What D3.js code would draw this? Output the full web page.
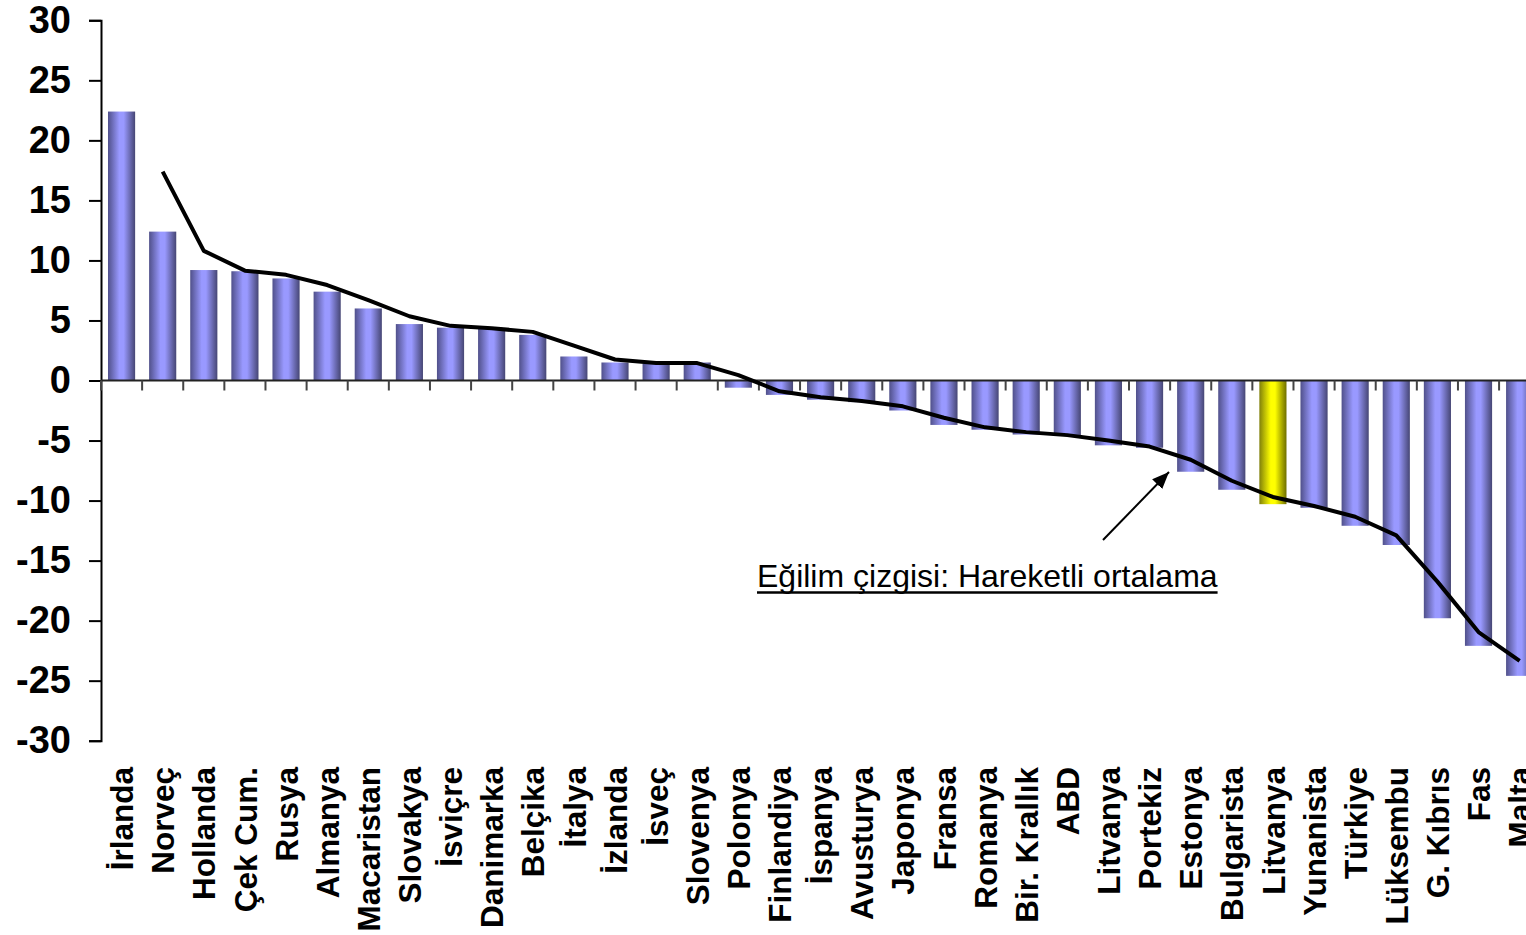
<!DOCTYPE html>
<html>
<head>
<meta charset="utf-8">
<script src="https://cdn.jsdelivr.net/npm/d3@7"></script>
<style>
  html, body { margin: 0; padding: 0; background: #fff; overflow: hidden; }
  svg { display: block; }
</style>
</head>
<body>
<svg id="chart" width="1526" height="935"></svg>
<script>
// ---- data ----
const categories = ["İrlanda","Norveç","Hollanda","Çek Cum.","Rusya","Almanya","Macaristan","Slovakya","İsviçre","Danimarka","Belçika","İtalya","İzlanda","İsveç","Slovenya","Polonya","Finlandiya","İspanya","Avusturya","Japonya","Fransa","Romanya","Bir. Krallık","ABD","Litvanya","Portekiz","Estonya","Bulgarista","Litvanya","Yunanista","Türkiye","Lüksembu","G. Kıbrıs","Fas","Malta"];
const values = [22.4,12.4,9.2,9.1,8.5,7.4,6.0,4.7,4.4,4.3,3.8,2.0,1.5,1.4,1.5,-0.6,-1.2,-1.6,-1.8,-2.5,-3.7,-4.1,-4.5,-4.6,-5.4,-5.6,-7.6,-9.1,-10.3,-10.6,-12.1,-13.7,-19.8,-22.1,-24.6];
const highlightIndex = 28;
const yTicks = [30,25,20,15,10,5,0,-5,-10,-15,-20,-25,-30];
const movingAveragePeriod = 2;
const annotationText = "Eğilim çizgisi: Hareketli ortalama";

// ---- layout ----
const svg = d3.select("#chart");
const left = 101, step = 41.12;
const x = d3.scaleBand().domain(d3.range(categories.length)).range([left, left + step * categories.length]).paddingInner(0).paddingOuter(0);
const y = d3.scaleLinear().domain([-30, 30]).range([740.7, 20.3]);
const barW = x.bandwidth() * 0.66;
const font = "'Liberation Sans', Arial, sans-serif";

const defs = svg.append("defs");
function grad(id, edgeL, mid, edgeR) {
  const g = defs.append("linearGradient").attr("id", id).attr("x1", "0").attr("x2", "1").attr("y1", "0").attr("y2", "0");
  g.append("stop").attr("offset", "0%").attr("stop-color", edgeL);
  g.append("stop").attr("offset", "42%").attr("stop-color", mid);
  g.append("stop").attr("offset", "58%").attr("stop-color", mid);
  g.append("stop").attr("offset", "100%").attr("stop-color", edgeR);
}
grad("gBlue", "#50508a", "#9999ff", "#464674");
grad("gYellow", "#80800a", "#ffff00", "#6e6e00");

// bars
svg.append("g").selectAll("rect").data(values).join("rect")
  .attr("x", (d, i) => x(i) + (x.bandwidth() - barW) / 2)
  .attr("width", barW)
  .attr("y", d => y(Math.max(0, d)))
  .attr("height", d => Math.abs(y(d) - y(0)))
  .attr("fill", (d, i) => i === highlightIndex ? "url(#gYellow)" : "url(#gBlue)");

// y axis
const yAxis = d3.axisLeft(y).tickValues(yTicks).tickSize(12).tickPadding(18).tickFormat(d3.format("d"));
const gy = svg.append("g").attr("transform", `translate(${left},0)`).call(yAxis);
gy.select(".domain").attr("stroke", "#000").attr("stroke-width", 2);
gy.selectAll(".tick line").attr("stroke", "#000").attr("stroke-width", 2);
gy.selectAll(".tick text")
  .attr("font-family", font)
  .attr("font-weight", "bold").attr("font-size", 38).attr("fill", "#000")
  .text(d => d < 0 ? "-" + Math.abs(d) : d);

// x axis at zero (ticks at category boundaries)
svg.append("line").attr("x1", left).attr("x2", left + step * categories.length)
  .attr("y1", y(0)).attr("y2", y(0)).attr("stroke", "#222").attr("stroke-width", 2);
svg.append("g").selectAll("line").data(d3.range(categories.length + 1)).join("line")
  .attr("x1", i => left + i * step).attr("x2", i => left + i * step)
  .attr("y1", y(0)).attr("y2", y(0) + 10)
  .attr("stroke", "#444").attr("stroke-width", 2);

// category labels
svg.append("g").selectAll("text").data(categories).join("text")
  .attr("transform", (d, i) => `translate(${x(i) + x.bandwidth() / 2},767) rotate(-90)`)
  .attr("dy", "0.37em")
  .attr("text-anchor", "end")
  .attr("font-family", font)
  .attr("font-weight", "bold").attr("font-size", 31.5).attr("fill", "#000")
  .text(d => d);

// moving average trendline
const ma = [];
for (let i = movingAveragePeriod - 1; i < values.length; i++) {
  ma.push({ i, v: d3.mean(values.slice(i - movingAveragePeriod + 1, i + 1)) });
}
svg.append("path").datum(ma)
  .attr("fill", "none").attr("stroke", "#000").attr("stroke-width", 4).attr("stroke-linejoin", "round")
  .attr("d", d3.line().x(d => x(d.i) + x.bandwidth() / 2).y(d => y(d.v)));

// annotation arrow
defs.append("marker").attr("id", "arrow").attr("viewBox", "0 0 17 14").attr("refX", 17).attr("refY", 7)
  .attr("markerWidth", 17).attr("markerHeight", 14).attr("markerUnits", "userSpaceOnUse")
  .attr("orient", "auto")
  .append("path").attr("d", "M0,0 L17,7 L0,14 z").attr("fill", "#000");
svg.append("line").attr("x1", 1103).attr("y1", 540).attr("x2", 1169).attr("y2", 472)
  .attr("stroke", "#000").attr("stroke-width", 2).attr("marker-end", "url(#arrow)");

const ann = svg.append("text").attr("x", 757).attr("y", 587)
  .attr("font-family", font)
  .attr("font-size", 32).attr("fill", "#000")
  .text(annotationText);
const annW = ann.node().getComputedTextLength();
svg.append("line").attr("x1", 757).attr("x2", 757 + annW).attr("y1", 592.5).attr("y2", 592.5)
  .attr("stroke", "#000").attr("stroke-width", 2.5);
</script>
</body>
</html>
